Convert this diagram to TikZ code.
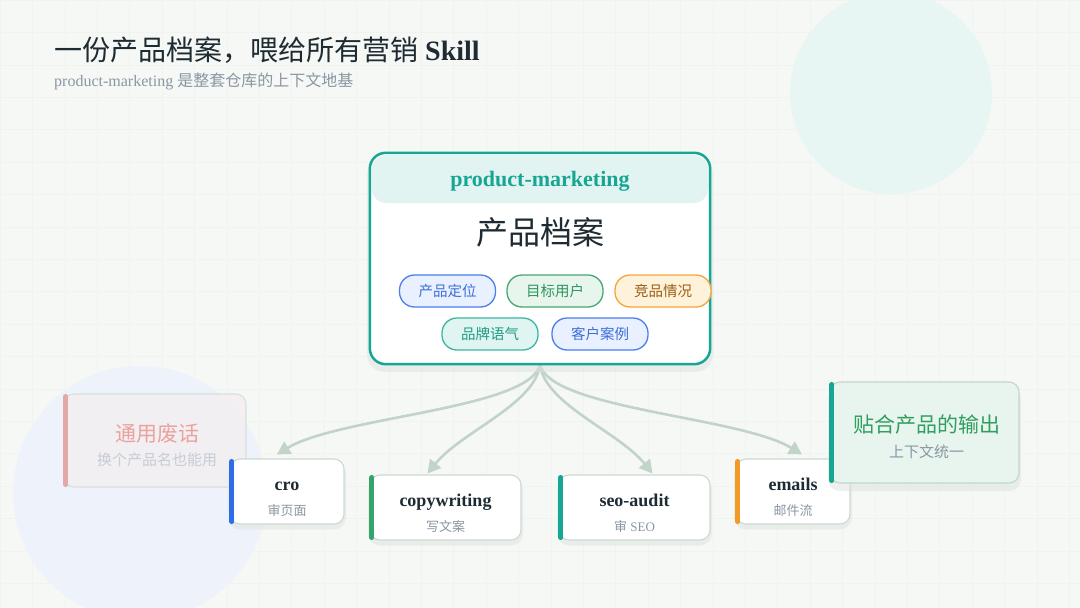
\documentclass[tikz,border=0pt]{standalone}
\usepackage{fontspec}
\setmainfont{Liberation Serif}
\newfontfamily\cjk{Noto Sans CJK SC}
\usepackage{tikz}
\usetikzlibrary{arrows.meta, positioning}
\usepackage{xcolor}
\definecolor{bgcol}{HTML}{F6F8F5}
\definecolor{gridcol}{HTML}{F0F3EF}
\definecolor{darktext}{HTML}{1E2B33}
\definecolor{subgray}{HTML}{8A96A4}
\definecolor{tealmain}{HTML}{17A693}
\definecolor{teallight}{HTML}{E1F4F1}
\definecolor{flowcol}{HTML}{C2D3CA}
\definecolor{cardline}{HTML}{CBDAD3}
\definecolor{shadowcol}{HTML}{DDE3DF}
\definecolor{blueacc}{HTML}{2F6DE6}
\definecolor{greenacc}{HTML}{35A46B}
\definecolor{orangeacc}{HTML}{F39A26}
\definecolor{circtr}{HTML}{E8F6F3}
\definecolor{circbl}{HTML}{EDF2FB}
\definecolor{bluepilldraw}{HTML}{4A7FF0}
\definecolor{bluepillfill}{HTML}{E9F0FF}
\definecolor{bluepilltext}{HTML}{3E6FD8}
\definecolor{greenpilldraw}{HTML}{46A872}
\definecolor{greenpillfill}{HTML}{E7F5EC}
\definecolor{greenpilltext}{HTML}{2E965C}
\definecolor{orangepilldraw}{HTML}{F5A53A}
\definecolor{orangepillfill}{HTML}{FFF2DA}
\definecolor{orangepilltext}{HTML}{9A5D14}
\definecolor{tealpilldraw}{HTML}{3BB5A4}
\definecolor{tealpillfill}{HTML}{E0F5F1}
\definecolor{tealpilltext}{HTML}{1F9B89}
\definecolor{genericdraw}{HTML}{D6E0DE}
\definecolor{genericfill}{HTML}{F4EFF2}
\definecolor{genericbar}{HTML}{E4A9A7}
\definecolor{generictitle}{HTML}{EBA19C}
\definecolor{genericsub}{HTML}{C6CCD4}
\definecolor{fitteddraw}{HTML}{C2D6CC}
\definecolor{fittedfill}{HTML}{E8F5EE}
\definecolor{fittedtitle}{HTML}{2F9E5F}
\tikzset{
	card/.style={rectangle, rounded corners=10pt, draw=cardline,
		fill=white, line width=1.1pt, minimum height=65pt, inner sep=0pt},
	cardname/.style={anchor=base, inner sep=0pt, text=darktext,
		font=\bfseries\fontsize{18}{20}\selectfont},
	cardnote/.style={anchor=base, inner sep=0pt, text=subgray,
		font=\fontsize{13}{15}\selectfont},
	pill/.style={rectangle, rounded corners=15pt, line width=1.3pt,
		minimum width=96pt, minimum height=32pt, inner sep=0pt,
		font=\cjk\fontsize{14.5}{16}\selectfont},
	accent/.style={line width=5pt, line cap=round},
	flow/.style={-{Triangle[length=13pt,width=14pt]}, line width=2.6pt,
		draw=flowcol},
	callout/.style={rectangle, rounded corners=10pt, line width=1.1pt,
		inner sep=0pt},
	callhead/.style={anchor=base, inner sep=0pt,
		font=\cjk\fontsize{21}{24}\selectfont},
	callnote/.style={anchor=base, inner sep=0pt,
		font=\cjk\fontsize{15}{17}\selectfont}
}
\begin{document}
\begin{tikzpicture}[x=1pt, y=-1pt]
	
	%% background and grid
	\fill[bgcol] (0,0) rectangle (1080,608);
	\useasboundingbox (0,0) rectangle (1080,608);
	\foreach \g in {0,...,33}{
		\draw[gridcol, line width=0.6pt] (\g*32.4,0) -- (\g*32.4,608);
	}
	\foreach \g in {0,...,18}{
		\draw[gridcol, line width=0.6pt] (0,\g*32.4) -- (1080,\g*32.4);
	}
	\fill[circtr] (891,93) circle (101);
	\fill[circbl] (140,493) circle (127);
	
	%% title
	\node[anchor=base west, inner sep=0pt, text=darktext,
	font=\fontsize{28}{32}\selectfont] (title) at (54,60)
	{{\cjk 一份产品档案，喂给所有营销} \textbf{Skill}};
	\node[anchor=base west, inner sep=0pt, text=subgray,
	font=\fontsize{16}{18}\selectfont] (subtitle) at (54,86)
	{product-marketing {\cjk 是整套仓库的上下文地基}};
	
	%% generic callout sits behind the cro card
	\node[callout, draw=genericdraw, fill=genericfill, fill opacity=0.85,
	minimum width=182pt, minimum height=93pt]
	(generic) at (155,440.5) {};
	\draw[accent, genericbar] ([xshift=2.5pt,yshift=-3pt]generic.north west)
	-- ([xshift=2.5pt,yshift=3pt]generic.south west);
	\node[callhead, text=generictitle] (generichead)
	at ([xshift=2pt,yshift=-0.5pt]generic.center) {通用废话};
	\node[callnote, text=genericsub] (genericnote)
	at ([xshift=2pt,yshift=-25pt]generic.center) {换个产品名也能用};
	
	%% skill cards
	\foreach \sk/\cx/\cy/\w in {cro/287/491.5/114, copy/445.5/507.5/151,
		seo/634.5/507.5/151, emails/793/491.5/114}{
		\fill[shadowcol, opacity=0.5, rounded corners=12pt]
		(\cx-\w/2-2,\cy-30) rectangle (\cx+\w/2+2,\cy+38);
	}
	\node[card, minimum width=114pt] (cro) at (287,491.5) {};
	\node[card, minimum width=151pt] (copy) at (445.5,507.5) {};
	\node[card, minimum width=151pt] (seo) at (634.5,507.5) {};
	\node[card, minimum width=114pt] (emails) at (793,491.5) {};
	
	\node[cardname] (croname) at ([yshift=1.5pt]cro.center) {cro};
	\node[cardnote] (cronote) at ([yshift=-23.5pt]cro.center) {\cjk 审页面};
	\node[cardname] (copyname) at ([yshift=1.5pt]copy.center) {copywriting};
	\node[cardnote] (copynote) at ([yshift=-23.5pt]copy.center) {\cjk 写文案};
	\node[cardname] (seoname) at ([yshift=1.5pt]seo.center) {seo-audit};
	\node[cardnote] (seonote) at ([yshift=-23.5pt]seo.center) {{\cjk 审} SEO};
	\node[cardname] (emailsname) at ([yshift=1.5pt]emails.center) {emails};
	\node[cardnote] (emailsnote) at ([yshift=-23.5pt]emails.center) {\cjk 邮件流};
	
	%% flows from the profile to the skills
	\coordinate (pmfoot) at (540,364);
	\draw[flow] (pmfoot) .. controls +(-8,45) and +(62,-38) ..
	([xshift=-10pt,yshift=4pt]cro.north);
	\draw[flow] (pmfoot) .. controls +(-4,40) and +(34,-42) ..
	([xshift=-18pt,yshift=1pt]copy.north);
	\draw[flow] (pmfoot) .. controls +(4,40) and +(-34,-42) ..
	([xshift=18pt,yshift=1pt]seo.north);
	\draw[flow] (pmfoot) .. controls +(8,45) and +(-62,-38) ..
	([xshift=9pt,yshift=4pt]emails.north);
	
	\draw[accent, blueacc] ([xshift=2.5pt,yshift=-3pt]cro.north west)
	-- ([xshift=2.5pt,yshift=3pt]cro.south west);
	\draw[accent, greenacc] ([xshift=2.5pt,yshift=-3pt]copy.north west)
	-- ([xshift=2.5pt,yshift=3pt]copy.south west);
	\draw[accent, tealmain] ([xshift=2.5pt,yshift=-3pt]seo.north west)
	-- ([xshift=2.5pt,yshift=3pt]seo.south west);
	\draw[accent, orangeacc] ([xshift=2.5pt,yshift=-3pt]emails.north west)
	-- ([xshift=2.5pt,yshift=3pt]emails.south west);
	
	%% product-marketing card
	\fill[shadowcol, opacity=0.5, rounded corners=18pt]
	(367,156) rectangle (713,372);
	\node[rectangle, rounded corners=16pt, fill=white, minimum width=340pt,
	minimum height=211pt, inner sep=0pt]
	(pm) at (540,258.5) {};
	\node[rectangle, rounded corners=15pt, fill=teallight, minimum width=337pt,
	minimum height=48pt, inner sep=0pt] (pmhead) at (540,179) {};
	\node[text=tealmain, font=\bfseries\fontsize{22}{24}\selectfont]
	(pmname) at ([yshift=-2pt]pmhead.center) {product-marketing};
	\draw[tealmain, line width=2.5pt, rounded corners=16pt]
	(pm.north west) rectangle (pm.south east);
	\node[font=\cjk\fontsize{32}{36}\selectfont, text=darktext]
	(pmtitle) at (540,232) {产品档案};
	
	\node[pill, draw=bluepilldraw, fill=bluepillfill, text=bluepilltext]
	(position) at (447.5,291) {产品定位};
	\node[pill, draw=greenpilldraw, fill=greenpillfill, text=greenpilltext]
	(users) at (555,291) {目标用户};
	\node[pill, draw=orangepilldraw, fill=orangepillfill, text=orangepilltext]
	(rivals) at (663,291) {竞品情况};
	\node[pill, draw=tealpilldraw, fill=tealpillfill, text=tealpilltext]
	(voice) at (490,334) {品牌语气};
	\node[pill, draw=bluepilldraw, fill=bluepillfill, text=bluepilltext]
	(cases) at (600,334) {客户案例};
	
	%% fitted callout sits over the emails card
	\fill[shadowcol, opacity=0.5, rounded corners=12pt]
	(828,386) rectangle (1021,491);
	\node[callout, draw=fitteddraw, fill=fittedfill, minimum width=189pt,
	minimum height=101pt] (fitted) at (924.5,432.5) {};
	\draw[accent, tealmain] ([xshift=2.5pt,yshift=-3pt]fitted.north west)
	-- ([xshift=2.5pt,yshift=3pt]fitted.south west);
	\node[callhead, text=fittedtitle] (fittedhead)
	at ([xshift=2pt,yshift=0pt]fitted.center) {贴合产品的输出};
	\node[callnote, text=subgray] (fittednote)
	at ([xshift=2pt,yshift=-25pt]fitted.center) {上下文统一};
	
\end{tikzpicture}
\end{document}
